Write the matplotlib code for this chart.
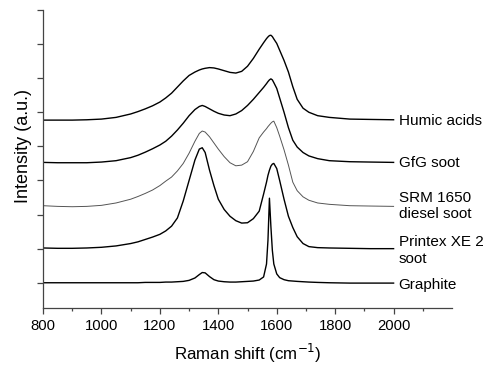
import matplotlib
matplotlib.use("Agg")
import matplotlib.pyplot as plt

plt.rcParams['font.family'] = ['Liberation Sans', 'DejaVu Sans']

# Raman shift grid (cm-1), shared by all spectra
shift = [800, 850, 900, 950, 1000, 1050, 1100, 1125, 1150, 1175, 1200, 1220,
         1240, 1260, 1280, 1300, 1320, 1335, 1345, 1355, 1370, 1385, 1400, 1420,
         1440, 1460, 1480, 1500, 1520, 1540, 1555, 1565, 1570, 1575, 1580, 1585,
         1590, 1600, 1610, 1625, 1640, 1655, 1670, 1690, 1710, 1740, 1780, 1850,
         1920, 2000]

# Stacked intensities (a.u., already offset)
graphite = [0.0, 0.0, 0.0, 0.0, 0.0, 0.0, 0.0, 0.0, 0.01, 0.01, 0.01, 0.02,
            0.02, 0.03, 0.04, 0.07, 0.14, 0.24, 0.3, 0.29, 0.18, 0.09, 0.05, 0.03,
            0.02, 0.02, 0.03, 0.04, 0.05, 0.08, 0.17, 0.55, 1.25, 2.48, 1.65, 0.95,
            0.55, 0.26, 0.15, 0.09, 0.06, 0.05, 0.04, 0.03, 0.02, 0.01, 0.0, -0.01,
            -0.01, -0.01]
printex = [1.02, 1.01, 1.01, 1.02, 1.04, 1.08, 1.15, 1.2, 1.27, 1.34, 1.42, 1.52,
           1.66, 1.9, 2.4, 3.0, 3.6, 3.92, 3.96, 3.82, 3.3, 2.85, 2.45, 2.15,
           1.95, 1.82, 1.75, 1.76, 1.88, 2.1, 2.6, 2.95, 3.15, 3.3, 3.42, 3.48,
           3.5, 3.35, 3.0, 2.45, 1.95, 1.62, 1.35, 1.15, 1.06, 1.03, 1.02, 1.01,
           1.0, 1.0]
srm1650 = [2.26, 2.24, 2.23, 2.24, 2.27, 2.34, 2.45, 2.53, 2.62, 2.72, 2.85, 2.98,
           3.1, 3.28, 3.5, 3.8, 4.15, 4.38, 4.45, 4.42, 4.28, 4.1, 3.92, 3.7,
           3.52, 3.43, 3.45, 3.55, 3.85, 4.25, 4.42, 4.52, 4.58, 4.63, 4.68, 4.72,
           4.74, 4.55, 4.3, 3.9, 3.45, 2.95, 2.7, 2.52, 2.42, 2.34, 2.3, 2.26,
           2.25, 2.24]
gfg = [3.53, 3.52, 3.52, 3.52, 3.54, 3.58, 3.67, 3.74, 3.83, 3.93, 4.04, 4.15,
       4.3, 4.48, 4.68, 4.9, 5.08, 5.17, 5.2, 5.17, 5.1, 5.03, 4.97, 4.92,
       4.9, 4.95, 5.05, 5.2, 5.38, 5.58, 5.73, 5.84, 5.9, 5.95, 5.98, 5.95,
       5.87, 5.7, 5.42, 5.0, 4.55, 4.18, 3.98, 3.82, 3.72, 3.64, 3.58, 3.55,
       3.54, 3.53]
humic = [4.77, 4.77, 4.77, 4.78, 4.8, 4.85, 4.95, 5.02, 5.1, 5.19, 5.3, 5.42,
         5.56, 5.74, 5.92, 6.08, 6.18, 6.24, 6.27, 6.29, 6.31, 6.3, 6.27, 6.22,
         6.17, 6.15, 6.2, 6.35, 6.58, 6.85, 7.04, 7.16, 7.21, 7.25, 7.26, 7.22,
         7.15, 7.02, 6.82, 6.52, 6.18, 5.75, 5.38, 5.12, 5.0, 4.9, 4.85, 4.8,
         4.79, 4.78]

names = ["Humic acids", "GfG soot", "SRM 1650\ndiesel soot",
         "Printex XE 2\nsoot", "Graphite"]
name_y = [4.74, 3.5, 2.25, 0.94, -0.06]

fig = plt.figure(figsize=(4.85, 3.67), dpi=100)
ax = fig.add_axes([0.0887, 0.1608, 0.8433, 0.812])

ax.plot(shift, humic, color='black', lw=1.0)
ax.plot(shift, gfg, color='black', lw=1.0)
ax.plot(shift, srm1650, color='#555555', lw=0.7)
ax.plot(shift, printex, color='black', lw=1.0)
ax.plot(shift, graphite, color='black', lw=1.0)

for name, y in zip(names, name_y):
    ax.text(2017, y, name, fontsize=11, ha='left', va='center',
            linespacing=1.25, clip_on=False)

ax.set_xlim(800, 2200)
ax.set_ylim(-0.74, 8)
ax.set_xticks(range(800, 2001, 200))
ax.set_xticks(range(900, 2200, 200), minor=True)
ax.set_yticks(range(0, 9))
ax.set_yticklabels([])

for side in ['top', 'right']:
    ax.spines[side].set_visible(False)
for side in ['left', 'bottom']:
    ax.spines[side].set_color('#444444')
    ax.spines[side].set_linewidth(0.9)

ax.tick_params(axis='both', which='major', direction='out', length=4,
               width=0.9, color='#444444', labelsize=10.7, pad=4)
ax.tick_params(axis='x', which='minor', direction='out', length=2.5,
               width=0.9, color='#444444')

ax.set_xlabel("Raman shift (cm$^{-1}$)", fontsize=12.2, labelpad=6)
ax.set_ylabel("Intensity (a.u.)", fontsize=13)
ax.yaxis.set_label_coords(-0.027, 0.545)

fig.savefig("out.png", dpi=100)
